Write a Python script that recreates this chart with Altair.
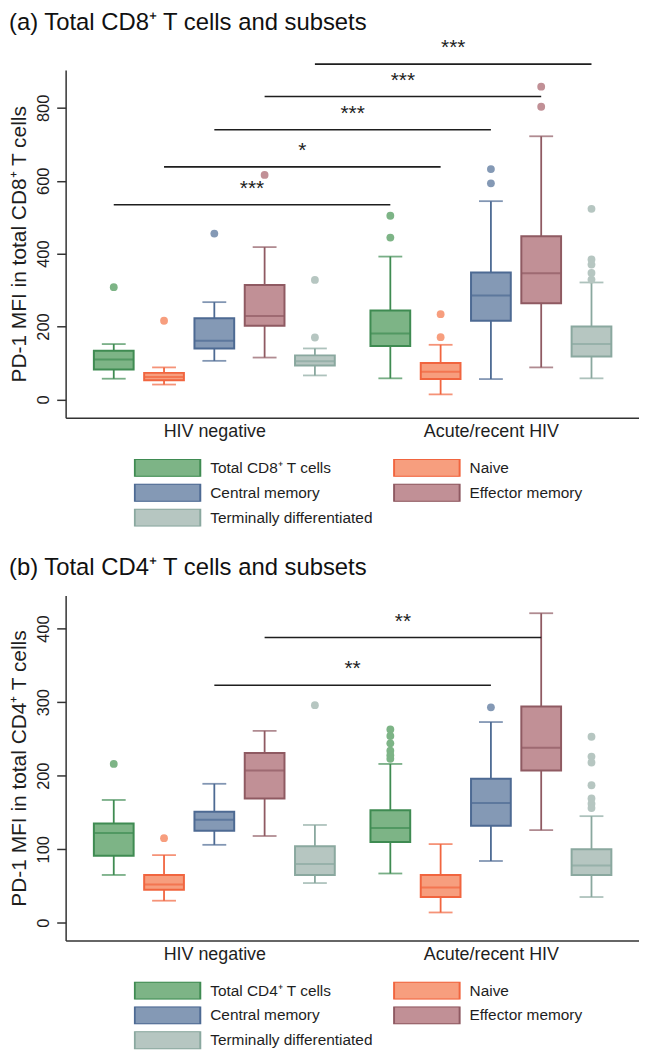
import altair as alt
import pandas as pd

FONT = "Liberation Sans"
INK = "#1e1e1e"

groups = ["HIV negative", "Acute/recent HIV"]
subsets_cd8 = ["Total CD8⁺ T cells", "Naive", "Central memory", "Effector memory", "Terminally differentiated"]
subsets_cd4 = ["Total CD4⁺ T cells", "Naive", "Central memory", "Effector memory", "Terminally differentiated"]

fills = ["#7db486", "#f79e7e", "#8499b5", "#c19096", "#b6c6c1"]
strokes = ["#3f8b52", "#f1653f", "#4d6a93", "#8f5a62", "#8aa89f"]

# order: HIV negative (5 subsets) then Acute/recent HIV (5 subsets)
cd8_low = [57, 41, 106, 115, 66, 58, 14, 56, 88, 58]
cd8_q1 = [82, 53, 140, 202, 93, 147, 56, 216, 264, 118]
cd8_med = [110, 62, 161, 229, 105, 181, 76, 285, 346, 152]
cd8_q3 = [134, 73, 223, 314, 121, 244, 100, 348, 448, 200]
cd8_high = [152, 88, 267, 418, 140, 392, 150, 544, 722, 321]
cd8_outliers = [[308], [216], [455], [616], [328, 170],
                [504, 444], [234, 171], [632, 593], [858, 803], [523, 384, 370, 347, 329]]
cd8_sig_subset = [0, 1, 2, 3, 4]
cd8_sig_level = [534, 638, 740, 831, 920]
cd8_sig_label = ["***", "*", "***", "***", "***"]
cd8_yticks = [0, 200, 400, 600, 800]

cd4_low = [65, 30, 106, 118, 54, 67, 14, 84, 126, 35]
cd4_q1 = [91, 45, 125, 169, 65, 110, 35, 132, 207, 65]
cd4_med = [122, 52, 140, 207, 80, 129, 48, 163, 238, 78]
cd4_q3 = [135, 65, 151, 231, 104, 153, 65, 196, 294, 100]
cd4_high = [167, 92, 189, 261, 133, 216, 107, 273, 421, 145]
cd4_outliers = [[216], [115], [], [], [296],
                [263, 254, 244, 234, 228, 223], [], [293], [], [253, 226, 218, 187, 169, 162, 156]]
cd4_sig_subset = [2, 3]
cd4_sig_level = [323, 388]
cd4_sig_label = ["**", "**"]
cd4_yticks = [0, 100, 200, 300, 400]

GROUP_SHIFT = 5.5
POS = f"datum.gi * {GROUP_SHIFT} + datum.si"
WIDTH = 577


def panel(title, ytitle, subsets, low, q1, med, q3, high, outliers,
          sig_subset, sig_level, sig_label, ydomain, yticks, height, title_offset):
    rows, orows = [], []
    for k in range(10):
        gi, si = divmod(k, 5)
        rows.append(dict(gi=gi, si=si, subset=subsets[si], low=low[k], q1=q1[k],
                         med=med[k], q3=q3[k], high=high[k]))
        for v in outliers[k]:
            orows.append(dict(gi=gi, si=si, subset=subsets[si], value=v))
    box = pd.DataFrame(rows)
    out = pd.DataFrame(orows)
    sig = pd.DataFrame(dict(si=sig_subset, level=sig_level, label=sig_label))

    xvals = [gi * GROUP_SHIFT + 2 for gi in range(len(groups))]
    xs = alt.Scale(domain=[-0.858, 10.346], nice=False, zero=False)
    xax = alt.Axis(values=xvals, title=None, ticks=False, grid=False,
                   labelExpr="['" + "','".join(groups) + "'][datum.value > 5 ? 1 : 0]",
                   domainColor="#333", domainWidth=1.5, labelFontSize=18, labelPadding=5,
                   labelColor=INK, labelFont=FONT, labelAngle=0, labelFlush=False,
                   labelOverlap=False)
    ys = alt.Scale(domain=ydomain, nice=False, zero=False)
    yax = alt.Axis(values=yticks, title=ytitle, grid=False, domainColor="#333",
                   domainWidth=1.5, tickColor="#333", tickWidth=1.5, tickSize=9,
                   labelAngle=270, labelAlign="center", labelBaseline="bottom",
                   labelFontSize=16.5, labelPadding=5, labelColor=INK, labelFont=FONT,
                   titleFont=FONT, titleFontSize=21, titleFontWeight="normal",
                   titleColor=INK, titlePadding=6)

    def X(f):
        return alt.X(f"{f}:Q", scale=xs, axis=xax)

    def Y(f):
        return alt.Y(f"{f}:Q", scale=ys, axis=yax)

    leg = alt.Legend(title=None, orient="none", legendX=68.5, legendY=height + 41.5,
                     direction="horizontal", columns=2,
                     symbolType="M-1,-0.2727L1,-0.2727L1,0.2727L-1,0.2727Z",
                     symbolSize=4356, symbolStrokeWidth=2, clipHeight=18,
                     labelFontSize=15.5, labelFont=FONT, labelColor=INK, labelOffset=9,
                     columnPadding=20, rowPadding=7, padding=0, labelLimit=0,
                     symbolOpacity=1)
    FILL = alt.Fill("subset:N", scale=alt.Scale(domain=subsets, range=fills), legend=leg)
    STROKE = alt.Stroke("subset:N", scale=alt.Scale(domain=subsets, range=strokes), legend=leg)
    # line colours: same palette as the box outlines, own scale without legend
    COLOR = alt.Color("subset:N", sort=subsets, scale=alt.Scale(range=strokes), legend=None)

    base = alt.Chart(box).transform_calculate(pos=POS)
    whisk = base.mark_rule(strokeWidth=1.8).encode(x=X("pos"), y=Y("low"), y2="high:Q", color=COLOR)
    cap_lo = base.mark_tick(orient="horizontal", size=24, thickness=1.8).encode(
        x=X("pos"), y=Y("low"), color=COLOR)
    cap_hi = base.mark_tick(orient="horizontal", size=24, thickness=1.8).encode(
        x=X("pos"), y=Y("high"), color=COLOR)
    boxes = base.mark_bar(size=40, strokeWidth=2, opacity=1).encode(
        x=X("pos"), y=Y("q1"), y2="q3:Q", fill=FILL, stroke=STROKE)
    meds = base.mark_tick(orient="horizontal", size=40, thickness=2).encode(
        x=X("pos"), y=Y("med"), color=COLOR)
    pts = alt.Chart(out).transform_calculate(pos=POS).mark_circle(size=62, opacity=1).encode(
        x=X("pos"), y=Y("value"), fill=FILL)
    sbase = alt.Chart(sig).transform_calculate(
        x1="datum.si", x2=f"datum.si + {GROUP_SHIFT}", mid=f"datum.si + {GROUP_SHIFT / 2}")
    srule = sbase.mark_rule(strokeWidth=1.6, color=INK).encode(x=X("x1"), x2="x2:Q", y=Y("level"))
    stext = sbase.mark_text(fontSize=21, dy=-16, color=INK, font=FONT).encode(
        x=X("mid"), y=Y("level"), text="label:N")

    return alt.layer(whisk, cap_lo, cap_hi, boxes, meds, pts, srule, stext).properties(
        width=WIDTH, height=height,
        title=alt.TitleParams(title, anchor="start", frame="bounds", fontSize=24,
                              fontWeight="normal", font=FONT, color="#111",
                              offset=title_offset))


top = panel("(a) Total CD8⁺ T cells and subsets", "PD-1 MFI in total CD8⁺ T cells",
            subsets_cd8, cd8_low, cd8_q1, cd8_med, cd8_q3, cd8_high, cd8_outliers,
            cd8_sig_subset, cd8_sig_level, cd8_sig_label, [-50, 904], cd8_yticks, 350, 2)
bottom = panel("(b) Total CD4⁺ T cells and subsets", "PD-1 MFI in total CD4⁺ T cells",
               subsets_cd4, cd4_low, cd4_q1, cd4_med, cd4_q3, cd4_high, cd4_outliers,
               cd4_sig_subset, cd4_sig_level, cd4_sig_label, [-24, 445], cd4_yticks, 347, 16)

chart = alt.vconcat(top, bottom, spacing=29, padding=0).resolve_scale(
    x="independent", y="independent", fill="independent", stroke="independent",
    color="independent").resolve_legend(
    fill="independent", stroke="independent", color="independent").resolve_axis(
    x="independent", y="independent").configure_view(strokeWidth=0)

chart.save("out.html", embed_options={"renderer": "svg", "actions": False})
